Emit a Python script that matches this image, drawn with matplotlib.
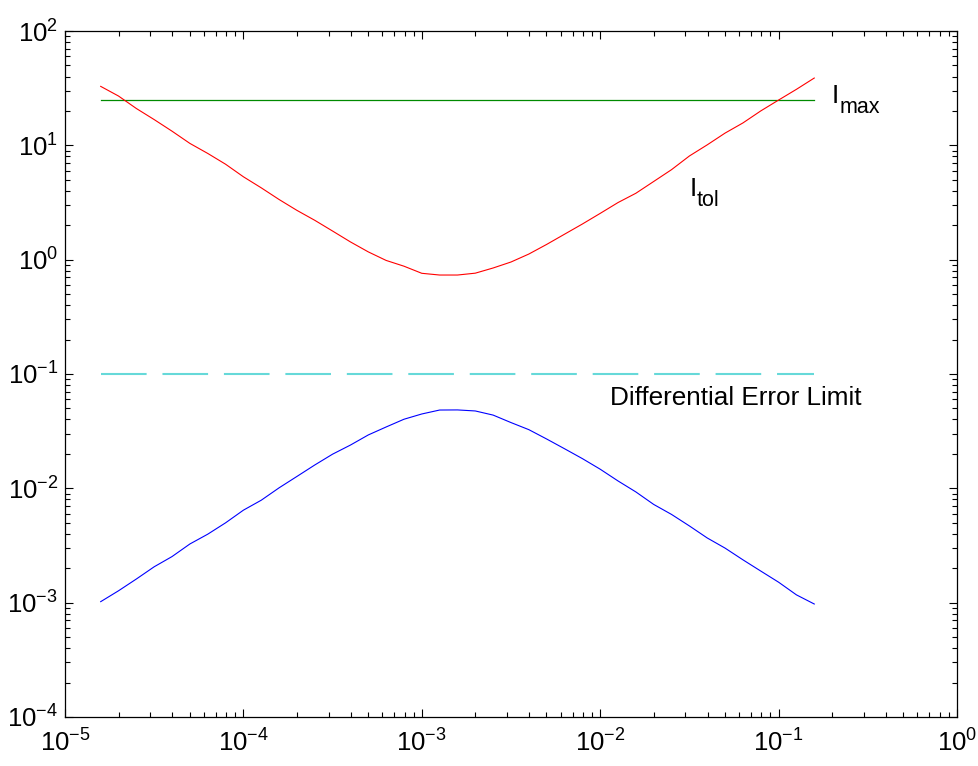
import matplotlib
matplotlib.use("Agg")
import matplotlib.pyplot as plt

plt.rcParams['font.family'] = ['Liberation Sans', 'DejaVu Sans']
plt.rcParams['mathtext.fontset'] = 'custom'
plt.rcParams['mathtext.rm'] = 'Liberation Sans'
plt.rcParams['mathtext.it'] = 'Liberation Sans:italic'

# sample points (x)
x = [1.585e-5, 1.995e-5, 2.512e-5, 3.162e-5, 3.981e-5, 5.012e-5, 6.310e-5, 7.943e-5,
     1.0e-4, 1.259e-4, 1.585e-4, 1.995e-4, 2.512e-4, 3.162e-4, 3.981e-4, 5.012e-4,
     6.310e-4, 7.943e-4, 1.0e-3, 1.259e-3, 1.585e-3, 1.995e-3, 2.512e-3, 3.162e-3,
     3.981e-3, 5.012e-3, 6.310e-3, 7.943e-3, 1.0e-2, 1.259e-2, 1.585e-2, 1.995e-2,
     2.512e-2, 3.162e-2, 3.981e-2, 5.012e-2, 6.310e-2, 7.943e-2, 1.0e-1, 1.259e-1,
     1.585e-1]

# tolerance current (red)
i_tol = [32.8, 27.0, 21.0, 16.8, 13.3, 10.4, 8.5, 6.84, 5.31, 4.25, 3.36, 2.70,
         2.21, 1.78, 1.43, 1.17, 0.985, 0.877, 0.760, 0.734, 0.734, 0.762, 0.846,
         0.954, 1.12, 1.36, 1.67, 2.05, 2.54, 3.16, 3.81, 4.83, 6.13, 8.07, 10.1,
         12.8, 15.7, 20.0, 24.9, 30.9, 38.8]

# differential error (blue)
diff_err = [1.02e-3, 1.27e-3, 1.61e-3, 2.06e-3, 2.53e-3, 3.26e-3, 3.97e-3, 4.99e-3,
            6.44e-3, 7.87e-3, 1.01e-2, 1.27e-2, 1.60e-2, 1.99e-2, 2.39e-2, 2.93e-2,
            3.44e-2, 4.02e-2, 4.47e-2, 4.84e-2, 4.85e-2, 4.75e-2, 4.37e-2, 3.76e-2,
            3.26e-2, 2.70e-2, 2.22e-2, 1.82e-2, 1.47e-2, 1.16e-2, 9.30e-3, 7.23e-3,
            5.91e-3, 4.69e-3, 3.68e-3, 3.00e-3, 2.37e-3, 1.89e-3, 1.51e-3, 1.17e-3,
            9.73e-4]

i_max = 25.0
err_limit = 0.1

fig = plt.figure(figsize=(9.79, 7.66), dpi=100)
ax = fig.add_axes([0.0664, 0.064, 0.9111, 0.8955])

ax.plot([x[0], x[-1]], [i_max, i_max], color='#008a00', lw=0.9)
ax.plot(x, i_tol, color='#ff0000', lw=0.8)
ax.plot(x, diff_err, color='#0000ff', lw=0.8)
lim, = ax.plot([x[0], x[-1]], [err_limit, err_limit], color='#66d9d9', lw=1.5)
lim.set_dashes([21.9, 7.6])

ax.set_xscale('log')
ax.set_yscale('log')
ax.set_xlim(1e-5, 1e0)
ax.set_ylim(1e-4, 1e2)

ax.tick_params(which='both', direction='in', top=True, right=True, labelsize=18.5)
ax.tick_params(which='major', length=5.8, width=0.8)
ax.tick_params(which='minor', length=3.4, width=0.8)
ax.tick_params(axis='x', pad=9)
ax.tick_params(axis='y', pad=5)
for s in ax.spines.values():
    s.set_linewidth(0.9)

# labels
ax.text(0.199, 23.7, 'I', fontsize=19, ha='left', va='baseline')
ax.text(0.2209, 19.2, 'max', fontsize=15.5, ha='left', va='baseline')
ax.text(0.0317, 3.64, 'I', fontsize=19, ha='left', va='baseline')
ax.text(0.0349, 2.92, 'tol', fontsize=15.5, ha='left', va='baseline')
ax.text(0.0113, 0.0536, 'Differential Error Limit', fontsize=18.8,
        ha='left', va='baseline')

fig.savefig('out.png', dpi=100)
